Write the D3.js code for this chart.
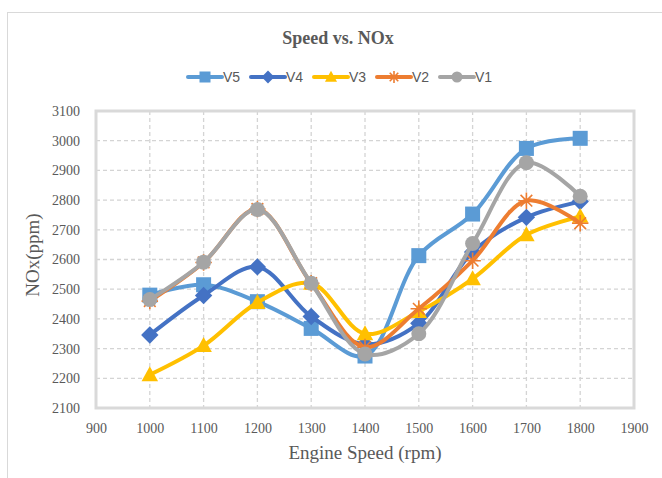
<!DOCTYPE html>
<html>
<head>
<meta charset="utf-8">
<script src="https://cdn.jsdelivr.net/npm/d3@7"></script>
<style>
  body { margin: 0; background: #fff; }
  svg text { fill: #595959; }
</style>
</head>
<body>
<svg id="chart" width="662" height="478"></svg>
<script>
// data
var speeds = [1000, 1100, 1200, 1300, 1400, 1500, 1600, 1700, 1800];
var seriesNames = ['V5', 'V4', 'V3', 'V2', 'V1'];
var v5 = [2480, 2515, 2458, 2368, 2275, 2613, 2753, 2974, 3008];
var v4 = [2346, 2479, 2575, 2408, 2315, 2385, 2625, 2742, 2795];
var v3 = [2212, 2310, 2455, 2520, 2350, 2425, 2535, 2683, 2745];
var v2 = [2460, 2590, 2770, 2520, 2305, 2434, 2596, 2798, 2722];
var v1 = [2465, 2591, 2768, 2520, 2282, 2350, 2654, 2926, 2813];
var xTicks = [900, 1000, 1100, 1200, 1300, 1400, 1500, 1600, 1700, 1800, 1900];
var yTicks = [2100, 2200, 2300, 2400, 2500, 2600, 2700, 2800, 2900, 3000, 3100];

var colors = {V5: '#5B9BD5', V4: '#4472C4', V3: '#FFC000', V2: '#ED7D31', V1: '#A5A5A5'};
var markers = {V5: 'square', V4: 'diamond', V3: 'triangle', V2: 'star', V1: 'circle'};
var values = {V5: v5, V4: v4, V3: v3, V2: v2, V1: v1};

var svg = d3.select('#chart');
var serif = '"Liberation Serif", "Times New Roman", serif';

// outer chart border (runs off right and bottom edge)
svg.append('rect').attr('x', 7.5).attr('y', 12.5).attr('width', 720).attr('height', 520)
  .attr('fill', 'none').attr('stroke', '#D9D9D9').attr('stroke-width', 1);

var plotLeft = 96, plotRight = 634, plotTop = 111, plotBottom = 408;
var x = d3.scaleLinear().domain([900, 1900]).range([plotLeft, plotRight]);
var y = d3.scaleLinear().domain([2100, 3100]).range([plotBottom, plotTop]);

// dashed grid
var grid = svg.append('g');
grid.selectAll('.vg').data(xTicks.slice(1, -1)).enter().append('line')
  .attr('x1', function(d){ return x(d); }).attr('x2', function(d){ return x(d); })
  .attr('y1', plotTop).attr('y2', plotBottom)
  .attr('stroke', '#D4D4D4').attr('stroke-width', 1.3).attr('stroke-dasharray', '4,3');
grid.selectAll('.hg').data(yTicks.slice(1, -1)).enter().append('line')
  .attr('x1', plotLeft).attr('x2', plotRight)
  .attr('y1', function(d){ return y(d); }).attr('y2', function(d){ return y(d); })
  .attr('stroke', '#D4D4D4').attr('stroke-width', 1.3).attr('stroke-dasharray', '4,3');

// plot frame
svg.append('rect').attr('x', plotLeft).attr('y', plotTop).attr('width', plotRight - plotLeft).attr('height', plotBottom - plotTop)
  .attr('fill', 'none').attr('stroke', '#D9D9D9').attr('stroke-width', 3);

// axes (labels only, lines drawn by the frame)
var xAxis = svg.append('g').attr('transform', 'translate(0,' + (plotBottom + 12) + ')')
  .call(d3.axisBottom(x).tickValues(xTicks).tickSize(0).tickFormat(d3.format('d')));
var yAxis = svg.append('g').attr('transform', 'translate(' + (plotLeft - 13) + ',0)')
  .call(d3.axisLeft(y).tickValues(yTicks).tickSize(0).tickFormat(d3.format('d')));
[xAxis, yAxis].forEach(function(ax){
  ax.select('.domain').remove();
  ax.selectAll('text').attr('font-family', serif).attr('font-size', 14).style('fill', '#595959');
});

// series, V5 first so V1 ends on top
var line = d3.line().curve(d3.curveCatmullRom.alpha(0.5))
  .x(function(d){ return x(d[0]); }).y(function(d){ return y(d[1]); });

function marker(g, kind, color, s){
  if(kind === 'square'){
    g.append('rect').attr('x', -s/2).attr('y', -s/2).attr('width', s).attr('height', s).attr('fill', color);
  }
  else if(kind === 'diamond'){
    var r = s * 0.58;
    g.append('path').attr('d', 'M0,' + (-r) + 'L' + r + ',0L0,' + r + 'L' + (-r) + ',0Z').attr('fill', color);
  }
  else if(kind === 'triangle'){
    var h = s * 0.95;
    g.append('path').attr('d', 'M0,' + (-h*0.6) + 'L' + (s*0.55) + ',' + (h*0.45) + 'L' + (-s*0.55) + ',' + (h*0.45) + 'Z').attr('fill', color);
  }
  else if(kind === 'star'){
    var a = s * 0.55;
    var p = '';
    [0, 45, 90, 135].forEach(function(deg){
      var t = deg * Math.PI / 180;
      p += 'M' + (-a*Math.cos(t)) + ',' + (-a*Math.sin(t)) + 'L' + (a*Math.cos(t)) + ',' + (a*Math.sin(t));
    });
    g.append('path').attr('d', p).attr('stroke', color).attr('stroke-width', 1.6).attr('fill', 'none');
  }
  else {
    g.append('circle').attr('r', s/2).attr('fill', color);
  }
}

seriesNames.forEach(function(name){
  var pts = speeds.map(function(s, i){ return [s, values[name][i]]; });
  var g = svg.append('g');
  g.append('path').datum(pts).attr('d', line)
    .attr('fill', 'none').attr('stroke', colors[name]).attr('stroke-width', 4)
    .attr('stroke-linecap', 'round').attr('stroke-linejoin', 'round');
  pts.forEach(function(p){
    var m = g.append('g').attr('transform', 'translate(' + x(p[0]) + ',' + y(p[1]) + ')');
    marker(m, markers[name], colors[name], 15);
  });
});

// title
svg.append('text').attr('x', 338).attr('y', 44).attr('text-anchor', 'middle')
  .attr('font-family', serif).attr('font-weight', 'bold').attr('font-size', 18).text('Speed vs. NOx');

// legend
var legend = svg.append('g').attr('transform', 'translate(188,77)');
seriesNames.forEach(function(name, i){
  var item = legend.append('g').attr('transform', 'translate(' + (i * 63) + ',0)');
  item.append('line').attr('x1', 0).attr('x2', 34).attr('y1', 0).attr('y2', 0)
    .attr('stroke', colors[name]).attr('stroke-width', 4).attr('stroke-linecap', 'round');
  var m = item.append('g').attr('transform', 'translate(17,0)');
  marker(m, markers[name], colors[name], 11);
  item.append('text').attr('x', 35).attr('y', 5).attr('font-family', '"Liberation Sans", Arial, sans-serif')
    .attr('font-size', 14).text(name);
});

// axis titles
svg.append('text').attr('x', 365).attr('y', 459).attr('text-anchor', 'middle')
  .attr('font-family', serif).attr('font-size', 19).text('Engine Speed (rpm)');
svg.append('text').attr('transform', 'translate(39,255) rotate(-90)').attr('text-anchor', 'middle')
  .attr('font-family', serif).attr('font-size', 19).text('NOx(ppm)');
</script>
</body>
</html>
